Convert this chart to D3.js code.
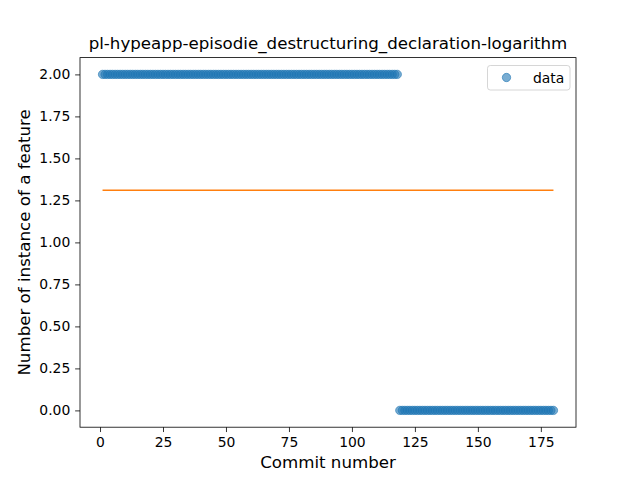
<!DOCTYPE html>
<html><head><meta charset="utf-8">
<script src="https://cdn.jsdelivr.net/npm/d3@7"></script>
<style>body{margin:0;background:#fff}svg{font-family:"DejaVu Sans",sans-serif}</style>
</head><body>
<script>
// data: commits 1..180, value per commit
const highCommits = d3.range(1, 119);   // commits with value 2
const lowCommits = d3.range(119, 181);  // commits with value 0
const highValue = 2;
const lowValue = 0;
const points = highCommits.map(c => ({x: c, y: highValue})).concat(lowCommits.map(c => ({x: c, y: lowValue})));
const meanValue = d3.mean(points, d => d.y);
const xTicks = [0, 25, 50, 75, 100, 125, 150, 175];
const yTicks = [0, 0.25, 0.5, 0.75, 1.0, 1.25, 1.5, 1.75, 2.0];

const W = 640, H = 480;
const L = 80, R = 576, T = 57.6, B = 427.2;
const svg = d3.select("body").append("svg").attr("width", W).attr("height", H);
const xMin = d3.min(points, d => d.x), xMax = d3.max(points, d => d.x);
const xm = (xMax - xMin) * 0.05;
const x = d3.scaleLinear().domain([xMin - xm, xMax + xm]).range([L, R]);
const y = d3.scaleLinear().domain([-0.1, 2.1]).range([B, T]);

// line (mean)
svg.append("line").attr("x1", x(xMin)).attr("x2", x(xMax)).attr("y1", y(meanValue)).attr("y2", y(meanValue))
  .attr("stroke", "#ff7f0e").attr("stroke-width", 1.5);

// points
svg.append("g").selectAll("circle").data(points).enter().append("circle")
  .attr("cx", d => x(d.x)).attr("cy", d => y(d.y)).attr("r", 4.17)
  .attr("fill", "#1f77b4").attr("fill-opacity", 0.6)
  .attr("stroke", "#1f77b4").attr("stroke-opacity", 0.6).attr("stroke-width", 1);

// axes
const xAxis = d3.axisBottom(x).tickValues(xTicks).tickFormat(d3.format("d")).tickSize(4.86).tickPadding(4.86);
const yAxis = d3.axisLeft(y).tickValues(yTicks).tickFormat(d3.format(".2f")).tickSize(4.86).tickPadding(4.86);
const gx = svg.append("g").attr("transform", `translate(0,${B})`).call(xAxis);
const gy = svg.append("g").attr("transform", `translate(${L},0)`).call(yAxis);
[gx, gy].forEach(g => {
  g.select(".domain").remove();
  g.selectAll("text").attr("font-size", "13.9px").attr("fill", "#000").attr("font-family", "DejaVu Sans");
  g.selectAll("line").attr("stroke", "#000").attr("stroke-width", 0.8);
});
svg.append("rect").attr("x", L).attr("y", T).attr("width", R - L).attr("height", B - T)
  .attr("fill", "none").attr("stroke", "#000").attr("stroke-width", 0.8);

// title and labels
svg.append("text").attr("x", (L + R) / 2).attr("y", 49).attr("text-anchor", "middle")
  .attr("font-size", "16.67px").text("pl-hypeapp-episodie_destructuring_declaration-logarithm");
svg.append("text").attr("x", (L + R) / 2).attr("y", 468).attr("text-anchor", "middle")
  .attr("font-size", "16.67px").text("Commit number");
svg.append("text").attr("transform", `translate(30,${(T + B) / 2}) rotate(-90)`).attr("text-anchor", "middle")
  .attr("font-size", "16.67px").text("Number of instance of a feature");

// legend
const lg = svg.append("g");
lg.append("rect").attr("x", 487.5).attr("y", 65.5).attr("width", 82.5).attr("height", 24.5).attr("rx", 2.8)
  .attr("fill", "#fff").attr("fill-opacity", 0.8).attr("stroke", "#ccc").attr("stroke-width", 0.8);
lg.append("circle").attr("cx", 506.5).attr("cy", 77.5).attr("r", 4.17)
  .attr("fill", "#1f77b4").attr("fill-opacity", 0.6).attr("stroke", "#1f77b4").attr("stroke-opacity", 0.6);
lg.append("text").attr("x", 533).attr("y", 82.5).attr("font-size", "13.9px").text("data");
</script>
</body></html>
